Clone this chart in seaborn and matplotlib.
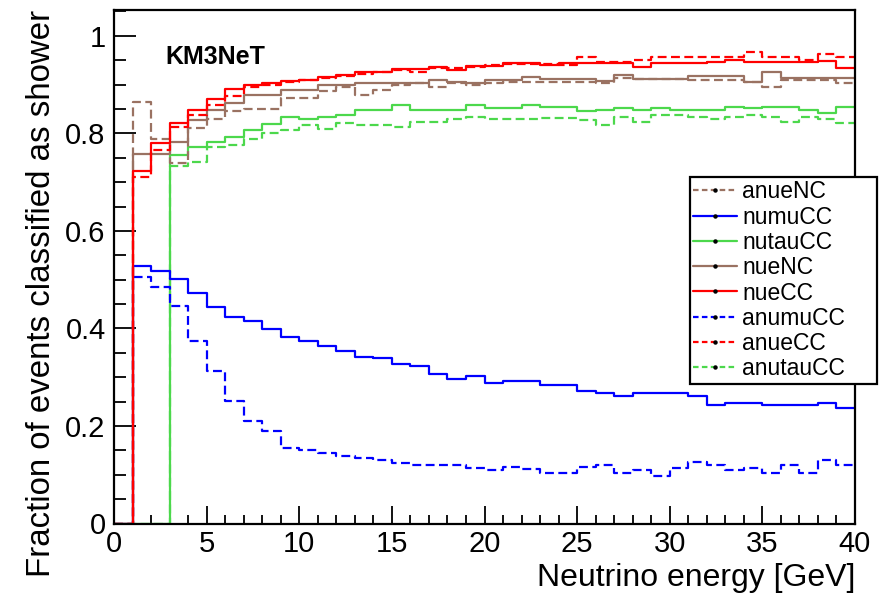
import numpy as np
import pandas as pd
import seaborn as sns
import matplotlib
matplotlib.use("Agg")
import matplotlib.pyplot as plt
from matplotlib.lines import Line2D
from matplotlib.ticker import MultipleLocator

# ---------------- data ----------------
bin_edges = list(range(0, 41))

nueCC = [0, 0.722, 0.781, 0.822, 0.848, 0.870, 0.891, 0.899, 0.904, 0.908,
         0.910, 0.915, 0.920, 0.926, 0.926, 0.932, 0.932, 0.937, 0.930, 0.939,
         0.939, 0.944, 0.945, 0.940, 0.944, 0.945, 0.945, 0.945, 0.937, 0.944,
         0.944, 0.944, 0.946, 0.950, 0.946, 0.946, 0.946, 0.946, 0.948, 0.935]
anueCC = [0, 0.711, 0.766, 0.814, 0.838, 0.858, 0.876, 0.895, 0.900, 0.906,
          0.910, 0.913, 0.918, 0.922, 0.926, 0.930, 0.925, 0.934, 0.935, 0.937,
          0.940, 0.942, 0.943, 0.942, 0.940, 0.956, 0.946, 0.946, 0.951, 0.956,
          0.956, 0.956, 0.956, 0.956, 0.966, 0.956, 0.956, 0.951, 0.963, 0.956]
nueNC = [0, 0.757, 0.757, 0.783, 0.828, 0.848, 0.862, 0.879, 0.879, 0.889,
         0.889, 0.899, 0.899, 0.903, 0.903, 0.903, 0.903, 0.910, 0.906, 0.903,
         0.910, 0.910, 0.915, 0.912, 0.912, 0.912, 0.908, 0.920, 0.912, 0.912,
         0.912, 0.917, 0.917, 0.917, 0.906, 0.925, 0.913, 0.913, 0.913, 0.913]
anueNC = [0, 0.865, 0.788, 0.739, 0.811, 0.830, 0.845, 0.850, 0.850, 0.872,
          0.872, 0.886, 0.895, 0.879, 0.889, 0.899, 0.903, 0.896, 0.903, 0.900,
          0.903, 0.905, 0.905, 0.905, 0.905, 0.905, 0.903, 0.914, 0.912, 0.912,
          0.912, 0.910, 0.910, 0.910, 0.906, 0.895, 0.910, 0.910, 0.910, 0.904]
numuCC = [0, 0.528, 0.517, 0.501, 0.472, 0.445, 0.424, 0.416, 0.399, 0.383,
          0.374, 0.363, 0.354, 0.342, 0.339, 0.327, 0.322, 0.307, 0.297, 0.303,
          0.288, 0.293, 0.293, 0.283, 0.283, 0.272, 0.267, 0.262, 0.267, 0.267,
          0.267, 0.262, 0.242, 0.247, 0.247, 0.242, 0.242, 0.242, 0.247, 0.236]
anumuCC = [0, 0.506, 0.486, 0.446, 0.374, 0.313, 0.252, 0.211, 0.190, 0.154,
           0.151, 0.145, 0.138, 0.134, 0.130, 0.125, 0.119, 0.119, 0.119, 0.114,
           0.110, 0.115, 0.111, 0.104, 0.104, 0.115, 0.120, 0.104, 0.110, 0.097,
           0.113, 0.126, 0.120, 0.110, 0.114, 0.104, 0.120, 0.104, 0.130, 0.120]
nutauCC = [0, 0, 0, 0.756, 0.773, 0.783, 0.792, 0.807, 0.819, 0.833,
           0.829, 0.833, 0.838, 0.848, 0.848, 0.858, 0.848, 0.848, 0.848, 0.858,
           0.852, 0.852, 0.858, 0.855, 0.855, 0.845, 0.848, 0.853, 0.848, 0.853,
           0.848, 0.847, 0.847, 0.854, 0.852, 0.854, 0.854, 0.848, 0.841, 0.854]
anutauCC = [0, 0, 0, 0.733, 0.742, 0.772, 0.776, 0.788, 0.800, 0.807,
            0.817, 0.809, 0.821, 0.817, 0.817, 0.813, 0.823, 0.823, 0.829, 0.833,
            0.829, 0.829, 0.829, 0.831, 0.831, 0.828, 0.817, 0.833, 0.824, 0.838,
            0.838, 0.833, 0.829, 0.833, 0.838, 0.833, 0.824, 0.833, 0.829, 0.822]

legend_order = ["anueNC", "numuCC", "nutauCC", "nueNC", "nueCC",
                "anumuCC", "anueCC", "anutauCC"]
series = {"anueNC": anueNC, "numuCC": numuCC, "nutauCC": nutauCC,
          "nueNC": nueNC, "nueCC": nueCC, "anumuCC": anumuCC,
          "anueCC": anueCC, "anutauCC": anutauCC}

x_ticks = [0, 5, 10, 15, 20, 25, 30, 35, 40]
x_tick_labels = ["0", "5", "10", "15", "20", "25", "30", "35", "40"]
y_ticks = [0, 0.2, 0.4, 0.6, 0.8, 1.0]
y_tick_labels = ["0", "0.2", "0.4", "0.6", "0.8", "1"]

# ---------------- style ----------------
RED, BLUE, GREEN, BROWN = "#ff0000", "#0000ff", "#4cd84c", "#9a7262"
style = {
    "anueNC": (BROWN, "--"), "numuCC": (BLUE, "-"), "nutauCC": (GREEN, "-"),
    "nueNC": (BROWN, "-"), "nueCC": (RED, "-"), "anumuCC": (BLUE, "--"),
    "anueCC": (RED, "--"), "anutauCC": (GREEN, "--"),
}
draw_order = ["nutauCC", "anutauCC", "numuCC", "anumuCC", "anueNC", "nueNC",
              "anueCC", "nueCC"]

sns.set_style("white")
plt.rcParams["font.family"] = ["Liberation Sans", "DejaVu Sans"]
plt.rcParams["text.color"] = "black"
plt.rcParams["axes.labelcolor"] = "black"
plt.rcParams["xtick.color"] = "black"
plt.rcParams["ytick.color"] = "black"

fig = plt.figure(figsize=(8.86, 6.0), dpi=100)
ax = fig.add_axes([0.1287, 0.1275, 0.8363, 0.8558])

LW = 1.6
DASH = (4, 2)
for name in draw_order:
    vals = series[name]
    c, ls = style[name]
    df = pd.DataFrame({"E": bin_edges, "frac": list(vals) + [vals[-1]]})
    sns.lineplot(data=df, x="E", y="frac", color=c, linewidth=LW,
                 drawstyle="steps-post", estimator=None, ax=ax, legend=False)
    if ls == "--":
        ax.lines[-1].set_dashes(DASH)

ax.set_xlim(0, 40)
ax.set_ylim(0, 1.053)
ax.set_xticks(x_ticks)
ax.set_xticklabels(x_tick_labels)
ax.set_yticks(y_ticks)
ax.set_yticklabels(y_tick_labels)
ax.xaxis.set_minor_locator(MultipleLocator(1))
ax.yaxis.set_minor_locator(MultipleLocator(0.05))
ax.tick_params(axis="both", which="both", direction="in", colors="black",
               bottom=True, left=True, top=False, right=False, width=1.3)
ax.tick_params(axis="x", which="major", length=13, labelsize=21, pad=5)
ax.tick_params(axis="x", which="minor", length=6.5)
ax.tick_params(axis="y", which="major", length=16, labelsize=21, pad=6)
ax.tick_params(axis="y", which="minor", length=8.5)
for sp in ax.spines.values():
    sp.set_visible(True)
    sp.set_color("black")
    sp.set_linewidth(1.6)

ax.set_xlabel("Neutrino energy [GeV]", fontsize=23, loc="right", labelpad=3)
ax.set_ylabel("Fraction of events classified as shower", fontsize=23.8,
              loc="top", labelpad=6)

ax.text(0.069, 0.908, "KM3NeT", transform=ax.transAxes, fontsize=18,
        fontweight="bold", va="center", ha="left", color="black")

handles = []
for name in legend_order:
    c, ls = style[name]
    h = Line2D([0], [0], color=c, linewidth=LW, marker="o", markersize=2.2,
               markerfacecolor="black", markeredgecolor="black")
    if ls == "--":
        h.set_dashes((2.5, 1.5))
    handles.append(h)
leg = ax.legend(handles, legend_order, loc="upper left",
                bbox_to_anchor=(0.777, 0.279, 0.253, 0.396), mode="expand",
                fontsize=16.5, frameon=True,
                fancybox=False, shadow=False, framealpha=1, edgecolor="black",
                borderpad=0.15, labelspacing=0.1, handlelength=1.9,
                handletextpad=0.25, borderaxespad=0, numpoints=1)
leg.get_frame().set_linewidth(1.6)
leg.set_zorder(10)

fig.savefig("out.png", dpi=100)
